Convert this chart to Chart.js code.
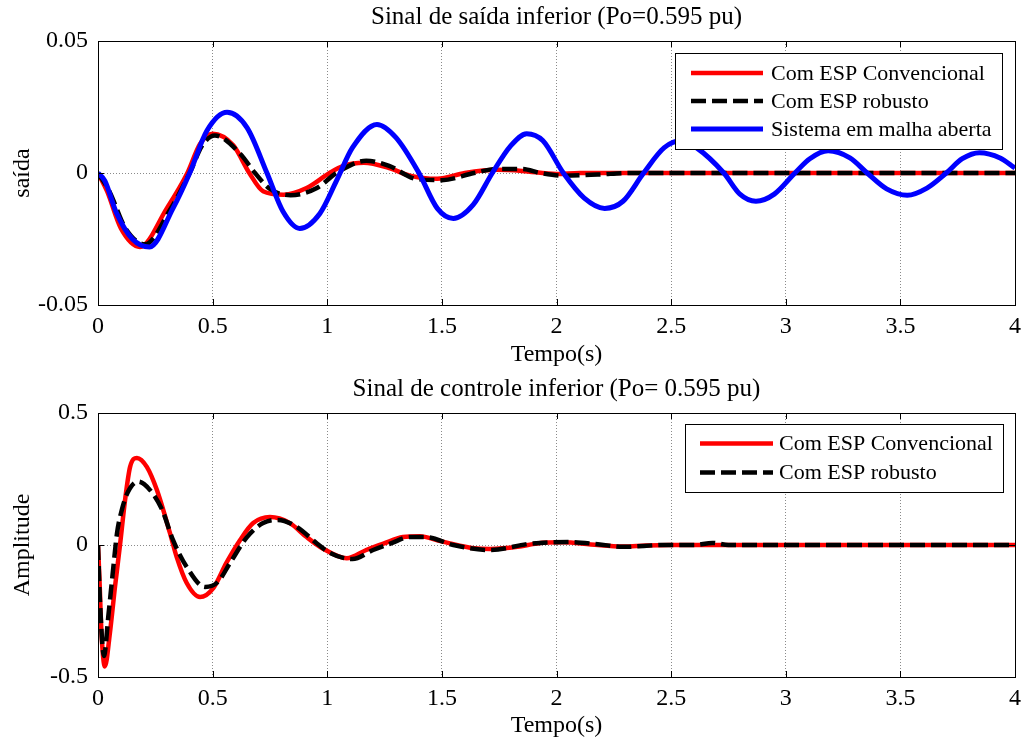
<!DOCTYPE html>
<html>
<head>
<meta charset="utf-8">
<script src="https://cdn.jsdelivr.net/npm/chart.js@4.4.1/dist/chart.umd.min.js"></script>
<style>
  html, body { margin: 0; padding: 0; background: #fff; overflow: hidden; }
  .box { position: absolute; left: 0; width: 1028px; }
  #top { top: 0; height: 372px; }
  #bot { top: 372px; height: 375px; }
</style>
</head>
<body>
<div class="box" id="top"><canvas id="c1"></canvas></div>
<div class="box" id="bot"><canvas id="c2"></canvas></div>
<script>
// --- top plot: saída ---
const tConvOut = [0, 0.04, 0.1, 0.183, 0.30, 0.39, 0.445, 0.50, 0.59, 0.66, 0.72, 0.81, 0.91, 1.01, 1.07, 1.16, 1.27, 1.36, 1.48, 1.60, 1.74, 1.85, 2.0, 2.1, 2.5, 4.0];
const yConvOut = [0, -0.007, -0.021, -0.028, -0.0134, 0, 0.011, 0.0149, 0.0105, 0, -0.0069, -0.0082, -0.0057, 0, 0.0027, 0.0039, 0.0019, -0.001, -0.0022, 0, 0.0012, 0.0008, -0.0004, 0, 0, 0];

const tRobOut = [0, 0.05, 0.12, 0.205, 0.315, 0.40, 0.455, 0.51, 0.62, 0.685, 0.75, 0.84, 0.955, 1.04, 1.17, 1.27, 1.39, 1.50, 1.64, 1.74, 1.85, 1.93, 2.03, 2.18, 2.32, 2.6, 4.0];
const yRobOut = [0, -0.007, -0.021, -0.027, -0.0138, 0, 0.0105, 0.0142, 0.0073, 0, -0.006, -0.0084, -0.0057, 0, 0.0046, 0.0027, -0.0023, -0.0027, 0, 0.0015, 0.0015, 0, -0.001, -0.0006, 0, 0, 0];

const tOpenOut = [0, 0.03, 0.08, 0.15, 0.225, 0.327, 0.40, 0.475, 0.563, 0.65, 0.737, 0.807, 0.88, 0.968, 1.04, 1.11, 1.217, 1.30, 1.40, 1.48, 1.55, 1.637, 1.72, 1.80, 1.87, 1.94, 2.03, 2.12, 2.21, 2.29, 2.38, 2.47, 2.545, 2.61, 2.73, 2.80, 2.87, 2.95, 3.04, 3.105, 3.185, 3.28, 3.355, 3.44, 3.53, 3.616, 3.70, 3.77, 3.845, 3.935, 4.0];
const yOpenOut = [0, -0.003, -0.015, -0.025, -0.028, -0.0134, 0, 0.016, 0.023, 0.0172, 0, -0.0146, -0.021, -0.0153, -0.003, 0.0096, 0.0184, 0.0134, 0, -0.0134, -0.0172, -0.012, 0, 0.0103, 0.0149, 0.0123, 0, -0.0094, -0.0134, -0.0107, 0, 0.0096, 0.0123, 0.0096, 0, -0.008, -0.0107, -0.008, 0, 0.0054, 0.0084, 0.0057, 0, -0.006, -0.0084, -0.0057, 0, 0.0054, 0.0077, 0.0057, 0.0019];

// --- bottom plot: controle ---
const tConvCtl = [0, 0.006, 0.015, 0.03, 0.052, 0.074, 0.096, 0.118, 0.14, 0.17, 0.213, 0.257, 0.314, 0.343, 0.387, 0.445, 0.503, 0.56, 0.62, 0.677, 0.75, 0.837, 0.91, 0.98, 1.085, 1.17, 1.245, 1.33, 1.405, 1.48, 1.535, 1.64, 1.71, 1.83, 1.915, 2.03, 2.15, 2.29, 2.39, 2.49, 4.0];
const yConvCtl = [0, -0.12, -0.33, -0.46, -0.333, -0.159, 0, 0.17, 0.296, 0.33, 0.296, 0.208, 0.045, -0.045, -0.144, -0.197, -0.163, -0.068, 0.019, 0.083, 0.106, 0.083, 0.03, -0.013, -0.05, -0.019, 0.005, 0.03, 0.033, 0.018, 0.006, -0.012, -0.015, -0.007, 0.006, 0.01, 0.002, -0.006, -0.002, 0, 0];

const tRobCtl = [0, 0.008, 0.026, 0.045, 0.067, 0.083, 0.104, 0.13, 0.175, 0.227, 0.28, 0.327, 0.387, 0.467, 0.523, 0.576, 0.65, 0.72, 0.785, 0.868, 0.955, 1.012, 1.11, 1.2, 1.275, 1.36, 1.43, 1.55, 1.71, 1.885, 2.06, 2.18, 2.29, 2.47, 2.6, 2.68, 2.75, 4.0];
const yRobCtl = [0, -0.2, -0.42, -0.27, -0.083, 0.045, 0.133, 0.2, 0.24, 0.208, 0.133, 0.019, -0.083, -0.159, -0.14, -0.068, 0.03, 0.083, 0.095, 0.068, 0.006, -0.03, -0.053, -0.019, 0.005, 0.03, 0.03, 0.0, -0.019, 0.005, 0.011, 0.003, -0.007, 0, 0, 0.008, 0, 0];

const xTicks = [0, 0.5, 1, 1.5, 2, 2.5, 3, 3.5, 4];
const yTicksOut = [-0.05, 0, 0.05];
const yTicksCtl = [-0.5, 0, 0.5];

const FONT = 'Liberation Serif, Times New Roman, serif';
Chart.defaults.color = '#000';
Chart.defaults.font.family = FONT;

const pts = (xs, ys) => xs.map((x, i) => ({ x: x, y: ys[i] }));

// MATLAB-like frame with inward ticks
const frame = {
    id: 'frame',
    afterDatasetsDraw(chart) {
        const { ctx, chartArea: a, scales } = chart;
        ctx.save();
        ctx.strokeStyle = '#000';
        ctx.lineWidth = 1;
        ctx.beginPath();
        chart.options.plugins.frame.xs.forEach(v => {
            const p = Math.round(scales.x.getPixelForValue(v)) + 0.5;
            ctx.moveTo(p, a.bottom); ctx.lineTo(p, a.bottom - 6);
            ctx.moveTo(p, a.top); ctx.lineTo(p, a.top + 6);
        });
        chart.options.plugins.frame.ys.forEach(v => {
            const p = Math.round(scales.y.getPixelForValue(v)) + 0.5;
            ctx.moveTo(a.left, p); ctx.lineTo(a.left + 6, p);
            ctx.moveTo(a.right, p); ctx.lineTo(a.right - 6, p);
        });
        ctx.stroke();
        ctx.strokeRect(Math.round(a.left) + 0.5, Math.round(a.top) + 0.5, Math.round(a.right - a.left), Math.round(a.bottom - a.top));
        ctx.restore();
    }
};

// boxed legend in the top-right corner of the axes
const boxLegend = {
    id: 'boxLegend',
    afterDraw(chart) {
        const o = chart.options.plugins.boxLegend;
        const { ctx, chartArea: a } = chart;
        const sets = chart.data.datasets;
        ctx.save();
        ctx.font = o.size + 'px ' + FONT;
        let tw = 0;
        sets.forEach(d => { tw = Math.max(tw, ctx.measureText(d.label).width); });
        const w = Math.round(o.padLeft + o.lineLen + o.gap + tw + o.padRight);
        const h = Math.round(o.rowH * sets.length + o.padV * 2);
        const x0 = Math.round(a.right - o.right - w), y0 = Math.round(a.top + o.top);
        ctx.fillStyle = '#fff';
        ctx.fillRect(x0, y0, w, h);
        ctx.strokeStyle = '#000';
        ctx.lineWidth = 1;
        ctx.strokeRect(x0 + 0.5, y0 + 0.5, w, h);
        sets.forEach((d, i) => {
            const cy = y0 + o.padV + o.rowH * (i + 0.5);
            ctx.strokeStyle = d.borderColor;
            ctx.lineWidth = d.borderWidth;
            ctx.setLineDash(d.borderDash || []);
            ctx.beginPath();
            ctx.moveTo(x0 + o.padLeft, cy);
            ctx.lineTo(x0 + o.padLeft + o.lineLen, cy);
            ctx.stroke();
            ctx.setLineDash([]);
            ctx.fillStyle = '#000';
            ctx.textAlign = 'left';
            ctx.textBaseline = 'middle';
            ctx.fillText(d.label, x0 + o.padLeft + o.lineLen + o.gap, cy + 1);
        });
        ctx.restore();
    }
};

function makeChart(id, cfg) {
    const el = document.getElementById(id);
    const ctx = el.getContext('2d');
    const gridCol = '#8a8a8a';
    return new Chart(ctx, {
        type: 'line',
        data: { datasets: cfg.datasets },
        options: {
            responsive: true,
            maintainAspectRatio: false,
            animation: false,
            layout: { padding: { left: 0, right: 4, top: 0, bottom: 0 } },
            elements: { point: { radius: 0 }, line: { cubicInterpolationMode: 'monotone' } },
            plugins: {
                legend: { display: false },
                tooltip: { enabled: false },
                title: {
                    display: true,
                    fullSize: false,
                    text: cfg.title,
                    font: { size: 25, weight: 'normal', family: FONT },
                    padding: { top: 2, bottom: 9 }
                },
                frame: { xs: xTicks, ys: cfg.yTicks },
                boxLegend: cfg.legend
            },
            scales: {
                x: {
                    type: 'linear',
                    min: 0, max: 4,
                    afterBuildTicks: s => { s.ticks = xTicks.map(v => ({ value: v })); },
                    afterFit: s => { s.height = cfg.xHeight; },
                    ticks: { font: { size: 24 }, padding: 7, maxRotation: 0, autoSkip: false, callback: v => String(v) },
                    grid: { color: gridCol, lineWidth: 1, drawTicks: false, tickLength: 0 },
                    border: { display: false, dash: [1, 2] },
                    title: { display: true, text: 'Tempo(s)', font: { size: 24 }, padding: { top: 0, bottom: cfg.xTitlePad } }
                },
                y: {
                    type: 'linear',
                    min: cfg.yTicks[0], max: cfg.yTicks[2],
                    afterBuildTicks: s => { s.ticks = cfg.yTicks.map(v => ({ value: v })); },
                    afterFit: s => { s.width = 98; },
                    ticks: { font: { size: 24 }, padding: 10, callback: v => String(v) },
                    grid: { color: gridCol, lineWidth: 1, drawTicks: false, tickLength: 0 },
                    border: { display: false, dash: [1, 2] },
                    title: { display: true, text: cfg.yLabel, font: { size: 24 }, padding: { top: 8.6, bottom: 0 } }
                }
            }
        },
        plugins: [frame, boxLegend]
    });
}

makeChart('c1', {
    title: 'Sinal de saída inferior (Po=0.595 pu)',
    yLabel: 'saída',
    yTicks: yTicksOut,
    xHeight: 67,
    xTitlePad: 2.6,
    legend: { size: 22, padLeft: 16, lineLen: 72, gap: 8, padRight: 10, rowH: 28, padV: 6, right: 13, top: 12 },
    datasets: [
        { label: 'Com ESP Convencional', data: pts(tConvOut, yConvOut), borderColor: '#ff0000', borderWidth: 4.5, order: 3 },
        { label: 'Com ESP robusto', data: pts(tRobOut, yRobOut), borderColor: '#000000', borderWidth: 4.5, borderDash: [15, 6], order: 2 },
        { label: 'Sistema em malha aberta', data: pts(tOpenOut, yOpenOut), borderColor: '#0000ff', borderWidth: 5, order: 1 }
    ]
});

makeChart('c2', {
    title: 'Sinal de controle inferior (Po= 0.595 pu)',
    yLabel: 'Amplitude',
    yTicks: yTicksCtl,
    xHeight: 70,
    xTitlePad: 6.6,
    legend: { size: 22, padLeft: 15, lineLen: 73, gap: 6, padRight: 10, rowH: 29, padV: 5, right: 12, top: 11 },
    datasets: [
        { label: 'Com ESP Convencional', data: pts(tConvCtl, yConvCtl), borderColor: '#ff0000', borderWidth: 4.5, order: 2 },
        { label: 'Com ESP robusto', data: pts(tRobCtl, yRobCtl), borderColor: '#000000', borderWidth: 4.5, borderDash: [15, 6], order: 1 }
    ]
});
</script>
</body>
</html>
